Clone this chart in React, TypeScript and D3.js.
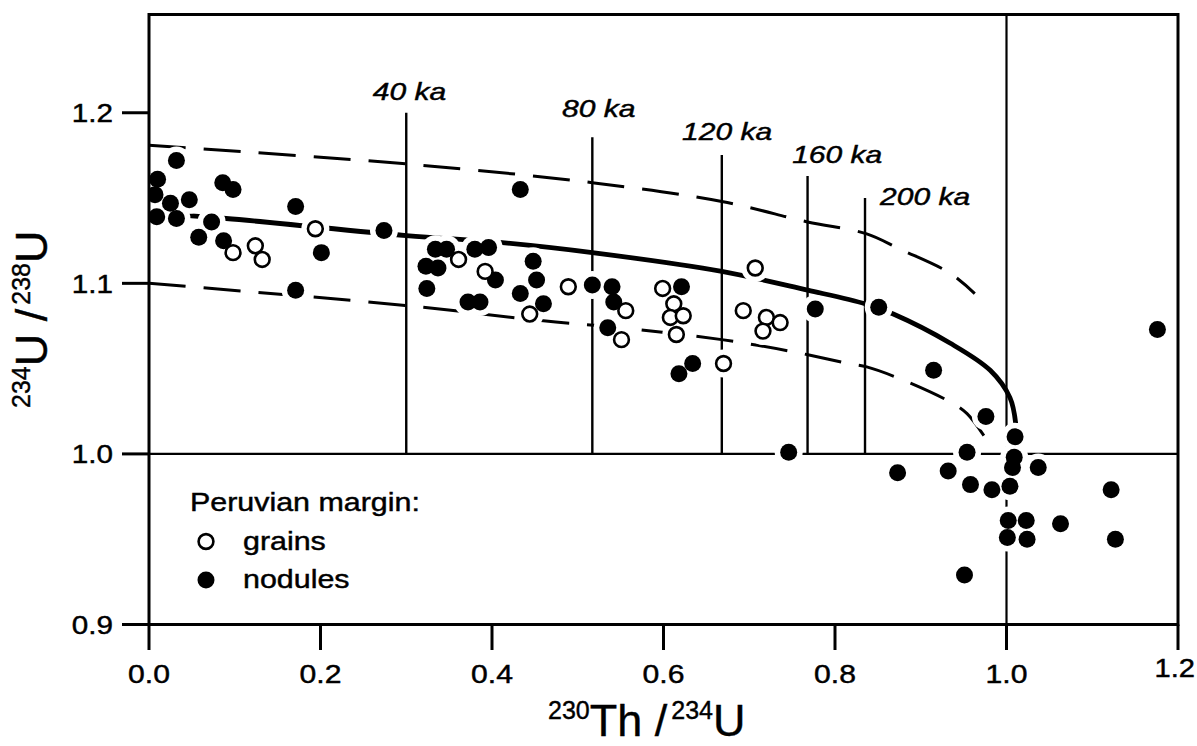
import { useEffect, useRef } from 'react';
import * as d3 from 'd3';

type Pt = [number, number];

const xTicks = [0, 0.2, 0.4, 0.6, 0.8, 1.0, 1.2];
const yTicks = [0.9, 1.0, 1.1, 1.2];

// Peruvian margin: grains (open symbols)
const grains: Pt[] = [
  [0.098, 1.118], [0.124, 1.122], [0.132, 1.114], [0.194, 1.132],
  [0.361, 1.114], [0.392, 1.107], [0.444, 1.082], [0.489, 1.098],
  [0.556, 1.084], [0.551, 1.067], [0.599, 1.097], [0.612, 1.088],
  [0.608, 1.080], [0.623, 1.081], [0.615, 1.070], [0.670, 1.053],
  [0.707, 1.109], [0.693, 1.084], [0.720, 1.080], [0.736, 1.077],
  [0.716, 1.072]
];

// Peruvian margin: nodules (filled symbols)
const nodules: Pt[] = [
  [0.032, 1.172], [0.010, 1.161], [0.007, 1.152], [0.025, 1.147],
  [0.047, 1.149], [0.009, 1.139], [0.032, 1.138], [0.058, 1.127],
  [0.073, 1.136], [0.086, 1.159], [0.098, 1.155], [0.087, 1.125],
  [0.171, 1.145], [0.201, 1.118], [0.171, 1.096], [0.274, 1.131],
  [0.334, 1.120], [0.347, 1.120], [0.380, 1.120], [0.396, 1.121],
  [0.323, 1.110], [0.337, 1.109], [0.324, 1.097], [0.404, 1.102],
  [0.372, 1.089], [0.386, 1.089], [0.433, 1.155], [0.448, 1.113],
  [0.452, 1.102], [0.433, 1.094], [0.460, 1.088], [0.517, 1.099],
  [0.540, 1.098], [0.542, 1.089], [0.535, 1.074], [0.621, 1.098],
  [0.634, 1.053], [0.618, 1.047], [0.777, 1.085], [0.851, 1.086],
  [0.746, 1.001], [1.176, 1.073], [0.915, 1.049], [0.976, 1.022],
  [1.010, 1.010], [0.954, 1.001], [1.009, 0.998], [1.007, 0.992],
  [1.037, 0.992], [0.873, 0.989], [0.932, 0.990], [0.958, 0.982],
  [0.983, 0.979], [1.004, 0.981], [1.122, 0.979], [1.002, 0.961],
  [1.023, 0.961], [1.063, 0.959], [1.001, 0.951], [1.024, 0.950],
  [1.127, 0.950], [0.951, 0.929]
];

// closed-system evolution curve (initial 234U/238U = 1.14)
const evolution: Pt[] = [
  [0, 1.141], [0.09, 1.138], [0.3, 1.128], [0.409, 1.124], [0.517, 1.118],
  [0.668, 1.107], [0.768, 1.096], [0.835, 1.088], [0.868, 1.082],
  [0.934, 1.065], [0.981, 1.049], [1.004, 1.033], [1.0107, 1.018]
];

// envelopes (initial 1.18 and 1.10)
const upperBound: Pt[] = [
  [0, 1.181], [0.3, 1.170], [0.517, 1.159], [0.668, 1.148], [0.768, 1.136],
  [0.837, 1.129], [0.876, 1.120], [0.934, 1.106], [0.963, 1.094]
];
const lowerBound: Pt[] = [
  [0, 1.100], [0.3, 1.087], [0.46, 1.078], [0.55, 1.074], [0.668, 1.067],
  [0.75, 1.060], [0.816, 1.053], [0.837, 1.051], [0.876, 1.044],
  [0.936, 1.030], [0.954, 1.0236], [0.976, 1.009]
];

// isochrons
const ageNames = ['40 ka', '80 ka', '120 ka', '160 ka', '200 ka'];
const ageX = [0.3, 0.517, 0.668, 0.768, 0.835];
const ageTop = [1.2, 1.1857, 1.1752, 1.1629, 1.15];
const ageLabelX = [0.261, 0.4816, 0.6216, 0.75, 0.8525];
const ageLabelY = [1.2075, 1.1975, 1.184, 1.1705, 1.1458];

const legendTitle = 'Peruvian margin:';
const legendNames = ['grains', 'nodules'];

const App = (): JSX.Element => {
  const svgRef = useRef<SVGSVGElement>(null);

  useEffect(() => {
    const width = 1197;
    const height = 746;
    const left = 149;
    const right = 1178;
    const top = 14.5;
    const bottom = 624.5;

    const svg = d3.select(svgRef.current).attr('width', width).attr('height', height);
    svg.selectAll('*').remove();

    const x = d3.scaleLinear([0, 1.2], [left, right]);
    const y = d3.scaleLinear([0.9, 1.2576], [bottom, top]);

    svg
      .append('defs')
      .append('clipPath')
      .attr('id', 'plot-area')
      .append('rect')
      .attr('x', left)
      .attr('y', top)
      .attr('width', right - left)
      .attr('height', bottom - top);

    const plot = svg.append('g').attr('clip-path', 'url(#plot-area)');

    // reference lines at 1.0
    plot.append('line').attr('x1', left).attr('x2', right).attr('y1', y(1)).attr('y2', y(1))
      .attr('stroke', '#000').attr('stroke-width', 2.2);
    plot.append('line').attr('x1', x(1)).attr('x2', x(1)).attr('y1', top).attr('y2', bottom)
      .attr('stroke', '#000').attr('stroke-width', 2.2);

    // isochron lines
    ageX.forEach((a, i) => {
      plot.append('line').attr('x1', x(a)).attr('x2', x(a)).attr('y1', y(1)).attr('y2', y(ageTop[i]))
        .attr('stroke', '#000').attr('stroke-width', 2.4);
    });

    const line = d3
      .line<Pt>()
      .x((d) => x(d[0]))
      .y((d) => y(d[1]))
      .curve(d3.curveCatmullRom.alpha(0.5));

    [upperBound, lowerBound].forEach((c) => {
      plot.append('path').attr('d', line(c)).attr('fill', 'none').attr('stroke', '#000')
        .attr('stroke-width', 3).attr('stroke-dasharray', '37 18');
    });
    plot.append('path').attr('d', line(evolution)).attr('fill', 'none').attr('stroke', '#000')
      .attr('stroke-width', 4.8);

    // white halos that break the lines around symbols
    plot.selectAll('circle.halo').data([...nodules, ...grains]).join('circle')
      .attr('class', 'halo').attr('cx', (d) => x(d[0])).attr('cy', (d) => y(d[1]))
      .attr('r', 14).attr('fill', '#fff');

    plot.selectAll('circle.nod').data(nodules).join('circle')
      .attr('class', 'nod').attr('cx', (d) => x(d[0])).attr('cy', (d) => y(d[1]))
      .attr('r', 8.5).attr('fill', '#000');
    plot.selectAll('circle.grain').data(grains).join('circle')
      .attr('class', 'grain').attr('cx', (d) => x(d[0])).attr('cy', (d) => y(d[1]))
      .attr('r', 7.4).attr('fill', '#fff').attr('stroke', '#000').attr('stroke-width', 2.6);

    // frame
    svg.append('rect').attr('x', left).attr('y', top).attr('width', right - left).attr('height', bottom - top)
      .attr('fill', 'none').attr('stroke', '#000').attr('stroke-width', 3);

    const stretched = (str: string, px: number, py: number, anchor: string, size: number, sx: number) =>
      svg.append('text')
        .attr('transform', `translate(${px},${py}) scale(${sx},1)`)
        .attr('text-anchor', anchor)
        .attr('font-size', size)
        .attr('stroke', '#000')
        .attr('stroke-width', 0.45)
        .text(str);

    const fmt = d3.format('.1f');

    // y axis
    yTicks.forEach((t) => {
      svg.append('line').attr('x1', 122).attr('x2', left).attr('y1', y(t)).attr('y2', y(t))
        .attr('stroke', '#000').attr('stroke-width', 3);
      stretched(fmt(t), 113, y(t) + 9.5, 'end', 26, 1.14);
    });

    // x axis
    xTicks.forEach((t, i) => {
      svg.append('line').attr('x1', x(t)).attr('x2', x(t)).attr('y1', bottom).attr('y2', 650)
        .attr('stroke', '#000').attr('stroke-width', 3);
      if (i === xTicks.length - 1) {
        stretched(fmt(t), 1195, 677, 'end', 26, 1.12);
      } else {
        stretched(fmt(t), x(t), 683, 'middle', 26, 1.16);
      }
    });

    // axis titles
    const title = (g: d3.Selection<SVGTextElement, unknown, null, undefined>, a: string, b: string, c: string, d: string) => {
      g.attr('stroke', '#000').attr('stroke-width', 0.4);
      g.append('tspan').attr('font-size', 25).attr('dy', -17).text(a);
      g.append('tspan').attr('font-size', 45).attr('dy', 17).text(b);
      g.append('tspan').attr('font-size', 25).attr('dy', -17).attr('dx', 4).text(c);
      g.append('tspan').attr('font-size', 45).attr('dy', 17).text(d);
    };
    title(svg.append('text').attr('transform', 'translate(548,736)'), '230', 'Th /', '234', 'U');
    title(svg.append('text').attr('transform', 'translate(47,408) rotate(-90)'), '234', 'U /', '238', 'U');

    // isochron labels
    ageNames.forEach((n, i) => {
      stretched(n, x(ageLabelX[i]), y(ageLabelY[i]), 'start', 24, 1.25).attr('font-style', 'italic');
    });

    // legend
    stretched(legendTitle, 190, 511, 'start', 26, 1.17);
    legendNames.forEach((n, i) => {
      const cy = i === 0 ? 541.5 : 580;
      if (i === 0) {
        svg.append('circle').attr('cx', 206).attr('cy', cy).attr('r', 7.4).attr('fill', '#fff')
          .attr('stroke', '#000').attr('stroke-width', 2.6);
      } else {
        svg.append('circle').attr('cx', 206).attr('cy', cy).attr('r', 8.5).attr('fill', '#000');
      }
      stretched(n, 243, cy + 8, 'start', 26, 1.17);
    });
  }, []);

  return (
    <div style={{ position: 'absolute', left: 0, top: 0 }}>
      <svg
        ref={svgRef}
        style={{ display: 'block', background: '#fff', fontFamily: '"Liberation Sans", Arial, Helvetica, sans-serif' }}
      />
    </div>
  );
};

export default App;
